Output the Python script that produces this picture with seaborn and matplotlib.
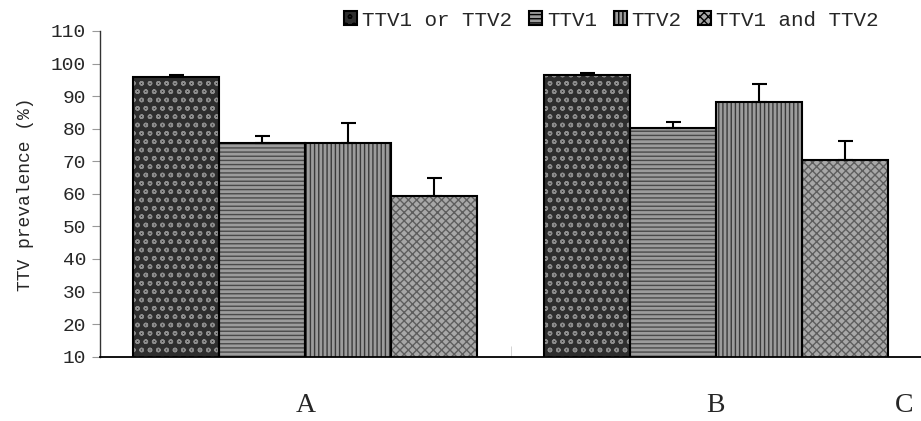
import numpy as np
import pandas as pd
import matplotlib
matplotlib.use("Agg")
import matplotlib.pyplot as plt
from matplotlib.patches import Patch, Rectangle
import seaborn as sns

# values
groups = ["A", "B"]
series = ["TTV1 or TTV2", "TTV1", "TTV2", "TTV1 and TTV2"]
values_a = [95.8, 75.7, 75.7, 59.3]
values_b = [96.5, 80.3, 88.1, 70.4]
errors_a = [0.7, 2.1, 6.0, 5.5]
errors_b = [0.5, 1.9, 5.6, 5.9]
y_ticks = list(range(10, 111, 10))

# fill / hatch look for each series (face, hatch, hatch colour)
styles = [
    ("#2e2e2e", "oo", "#8c8c8c"),
    ("#9c9c9c", "----", "#4a4a4a"),
    ("#9c9c9c", "||||", "#3a3a3a"),
    ("#a8a8a8", "xxxx", "#5e5e5e"),
]

sns.set_style("white")
plt.rcParams['font.family'] = ['Liberation Mono', 'DejaVu Sans']
plt.rcParams['hatch.linewidth'] = 1.0

df = pd.DataFrame({
    "group": np.repeat(groups, len(series)),
    "series": series * len(groups),
    "value": values_a + values_b,
    "err": errors_a + errors_b,
})

fig = plt.figure(figsize=(9.21, 4.21), dpi=100)
ax = fig.add_axes([100 / 921, 1 - 356.7 / 421, 821 / 921, (356.7 - 31) / 421])

sns.barplot(data=df, x="group", y="value", hue="series", hue_order=series,
            order=groups, width=0.837, errorbar=None, legend=False, ax=ax)

for cont, (face, hatch, hcol), name in zip(ax.containers, styles, series):
    errs = df[df["series"] == name].set_index("group").loc[groups, "err"].values
    for bar, e in zip(cont.patches, errs):
        bar.set_facecolor(face)
        bar.set_hatch(hatch)
        bar.set_edgecolor(hcol)
        bar.set_linewidth(0)
        ax.add_patch(Rectangle(bar.get_xy(), bar.get_width(), bar.get_height(),
                               fill=False, edgecolor="black", lw=1.5, zorder=3))
        cx = bar.get_x() + bar.get_width() / 2
        ax.errorbar(cx, bar.get_height(), yerr=[[0], [e]], color="black",
                    lw=1.5, capsize=5.4, capthick=1.5, zorder=4)

ax.set_ylim(10, 110)
ax.set_xlim(-0.5, 1.5)
ax.set_yticks(y_ticks)
ax.tick_params(axis="y", direction="out", length=6, color="#999999",
               labelsize=14, pad=4, left=True)
ax.set_xticks([0, 1])
ax.set_xticklabels(groups, fontsize=20, family="Liberation Serif")
ax.tick_params(axis="x", length=0, pad=26)
ax.set_xticks([0.5], minor=True)
ax.tick_params(axis="x", which="minor", direction="in", length=8,
               color="#cccccc", bottom=True)
ax.set_xlabel("")
ax.set_ylabel("TTV prevalence (%)", fontsize=13, labelpad=12)

sns.despine(ax=ax)
ax.spines["left"].set_color("#333333")
ax.spines["left"].set_linewidth(1.0)
ax.spines["bottom"].set_color("black")
ax.spines["bottom"].set_linewidth(1.3)

handles = [Patch(facecolor=f, hatch=h, edgecolor="black", lw=1.5)
           for f, h, _ in styles]
fig.legend(handles, series, loc="center right", ncol=4, frameon=False,
           bbox_to_anchor=(879 / 921, 1 - 20 / 421), fontsize=15,
           handlelength=0.62, handleheight=0.62, handletextpad=0.25,
           columnspacing=0.8, borderpad=0, borderaxespad=0)

fig.text(904 / 921, 1 - 406 / 421, "C", fontsize=20, family="Liberation Serif",
         ha="center", va="center")

fig.savefig("out.png", dpi=100)
